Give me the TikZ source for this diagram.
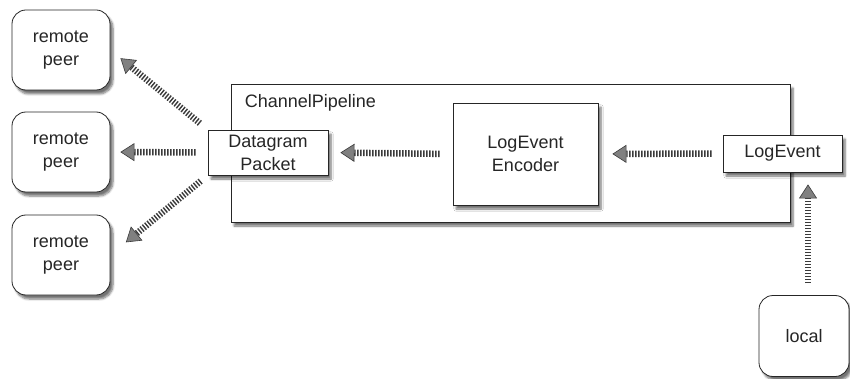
\documentclass[tikz,border=0pt]{standalone}
\usepackage{fontspec}
\setmainfont{Liberation Sans}
\usetikzlibrary{positioning,calc,shadows.blur,arrows.meta}
\definecolor{pipedark}{HTML}{262626}
\definecolor{pipeink}{HTML}{3A3A3A}

\begin{document}
\begin{tikzpicture}[
  x=1pt, y=-1pt,
  font=\fontsize{18}{23}\selectfont,
  box/.style={draw=pipedark, line width=0.8pt, fill=white, align=center, inner sep=0pt,
    text=black!85, blur shadow={shadow xshift=3pt, shadow yshift=-4pt, shadow blur steps=6,
    shadow opacity=55}},
  peer/.style={box, rounded corners=14pt, minimum width=98pt, minimum height=80pt},
  hatch/.style={draw=pipeink, line width=6.5pt, dash pattern=on 1.4pt off 1.6pt,
    -{Triangle[length=14pt, width=18pt, line width=0.6pt, fill=black!50]}},
]
\useasboundingbox (0,0) rectangle (850,379);

% ---------- remote peers (left column) ----------
\foreach \n/\yc in {a/50, b/152, c/255} {
  \node[peer] (peer\n) at (61,\yc) {remote\\peer};
}
\node[peer, minimum width=90pt, minimum height=81pt] (local) at (804,336) {local};

% ---------- pipeline and its handlers ----------
\node[box, minimum width=559pt, minimum height=138pt] (pipeline) at (510.5,153) {};
\node[anchor=west, inner sep=0pt, text=black!85] (pipelabel)
  at ($(pipeline.north west)+(14,19)$) {ChannelPipeline};
\node[box, minimum width=120pt, minimum height=45pt] (datagram) at (268,152.5) {Datagram\\Packet};
\node[box, minimum width=145pt, minimum height=102pt] (encoder) at (525.5,154) {LogEvent\\Encoder};
\node[box, minimum width=119pt, minimum height=37pt] (logevent) at (782.5,153.5) {LogEvent};

% ---------- flow ----------
\draw[hatch, shorten <=12pt, shorten >=12pt] (local.north -| 808,0) -- (logevent.south -| 808,0);
\draw[hatch, shorten <=11pt, shorten >=14pt] (logevent.west) -- (encoder.east);
\draw[hatch, shorten <=13pt, shorten >=12pt] (encoder.west) -- (datagram.east);
\draw[hatch, shorten <=10pt, shorten >=13pt] (datagram.north west) -- (peera.east);
\draw[hatch, shorten <=12pt, shorten >=10pt] (datagram.west) -- (peerb.east);
\draw[hatch, shorten <=9pt, shorten >=20pt] (datagram.south west) -- (peerc.east);
\end{tikzpicture}
\end{document}
